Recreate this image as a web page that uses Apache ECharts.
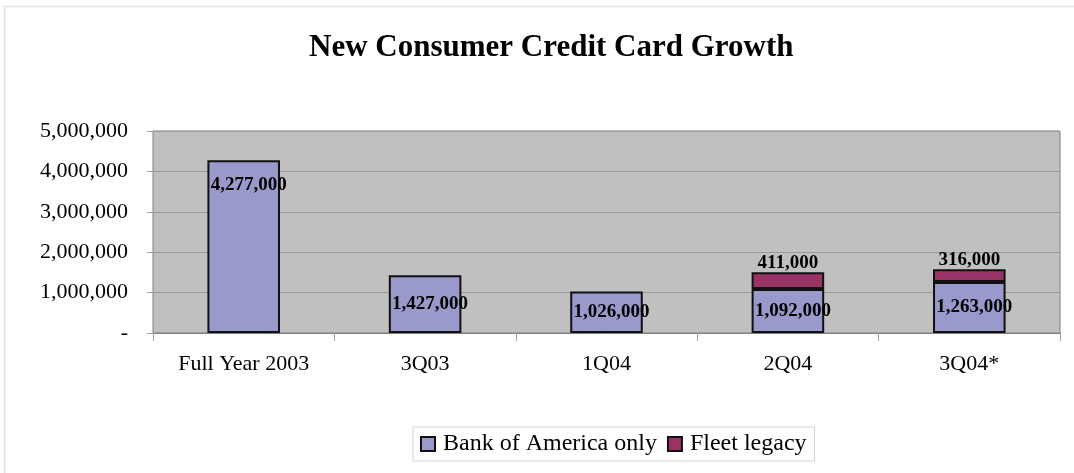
<!DOCTYPE html>
<html>
<head>
<meta charset="utf-8">
<script src="https://cdn.jsdelivr.net/npm/echarts@6/dist/echarts.min.js"></script>
<style>html,body{margin:0;padding:0;background:#fff;}#c{width:1074px;height:473px;}</style>
</head>
<body>
<div id="c"></div>
<script>
var categories = ['Full Year 2003', '3Q03', '1Q04', '2Q04', '3Q04*'];
var bankOnly = [4277000, 1427000, 1026000, 1092000, 1263000];
var fleetLegacy = ['-', '-', '-', 411000, 316000];
var yTicks = { min: 0, max: 5000000, interval: 1000000 };

var FONT = '"Liberation Serif", "Times New Roman", serif';
function fmt(v) {
  if (v === 0) return '-';
  return String(v).replace(/\B(?=(\d{3})+(?!\d))/g, ',');
}

var bankData = bankOnly.map(function (v, i) {
  var d = { value: v };
  if (i === 0) {
    d.label = { position: 'insideTop', distance: 15 };
  }
  return d;
});

var chart = echarts.init(document.getElementById('c'), null, { renderer: 'canvas' });
chart.setOption({
  backgroundColor: '#fff',
  animation: false,
  title: {
    text: 'New Consumer Credit Card Growth',
    left: 304,
    top: 27,
    textStyle: { fontFamily: FONT, fontWeight: 'bold', fontSize: 31, color: '#000' }
  },
  graphic: [
    { type: 'line', shape: { x1: 4, y1: 6.5, x2: 1074, y2: 6.5 }, style: { stroke: '#e4e4e4', lineWidth: 1.5 } },
    { type: 'line', shape: { x1: 4.5, y1: 6, x2: 4.5, y2: 473 }, style: { stroke: '#e4e4e4', lineWidth: 1.5 } }
  ],
  legend: {
    left: 413,
    top: 427,
    padding: [5, 8, 5, 7],
    borderColor: '#d4d4d4',
    borderWidth: 1,
    itemWidth: 14,
    itemHeight: 14,
    itemGap: 10,
    icon: 'rect',
    textStyle: { fontFamily: FONT, fontSize: 24, color: '#000', padding: [0, 0, 0, 3] },
    data: ['Bank of America only', 'Fleet legacy']
  },
  grid: {
    left: 153, right: 14, top: 131, bottom: 140,
    show: true,
    backgroundColor: '#c0c0c0',
    borderColor: '#808080',
    borderWidth: 1
  },
  xAxis: {
    type: 'category',
    data: categories,
    axisLine: { lineStyle: { color: '#808080', width: 1 } },
    axisTick: { show: true, length: 8, lineStyle: { color: '#a0a0a0' } },
    axisLabel: { fontFamily: FONT, fontSize: 22, color: '#000', margin: 20 }
  },
  yAxis: {
    type: 'value',
    min: yTicks.min, max: yTicks.max, interval: yTicks.interval,
    axisLine: { show: false },
    axisTick: { show: true, length: 6, lineStyle: { color: '#a0a0a0' } },
    splitLine: { lineStyle: { color: '#9a9a9a', width: 1 } },
    axisLabel: { fontFamily: FONT, fontSize: 22, color: '#000', margin: 25, formatter: fmt }
  },
  series: [
    {
      name: 'Bank of America only',
      type: 'bar',
      stack: 'total',
      barCategoryGap: '60%',
      data: bankData,
      itemStyle: { color: '#9999cc', borderColor: '#111', borderWidth: 2 },
      label: {
        show: true,
        position: 'inside',
        offset: [5, 0],
        fontFamily: FONT, fontWeight: 'bold', fontSize: 19, color: '#000',
        formatter: function (p) { return fmt(p.value); }
      }
    },
    {
      name: 'Fleet legacy',
      type: 'bar',
      stack: 'total',
      barCategoryGap: '60%',
      data: fleetLegacy,
      itemStyle: { color: '#993366', borderColor: '#111', borderWidth: 2 },
      label: {
        show: true,
        position: 'top',
        distance: 0,
        fontFamily: FONT, fontWeight: 'bold', fontSize: 19, color: '#000',
        formatter: function (p) { return fmt(p.value); }
      }
    }
  ]
});
</script>
</body>
</html>
